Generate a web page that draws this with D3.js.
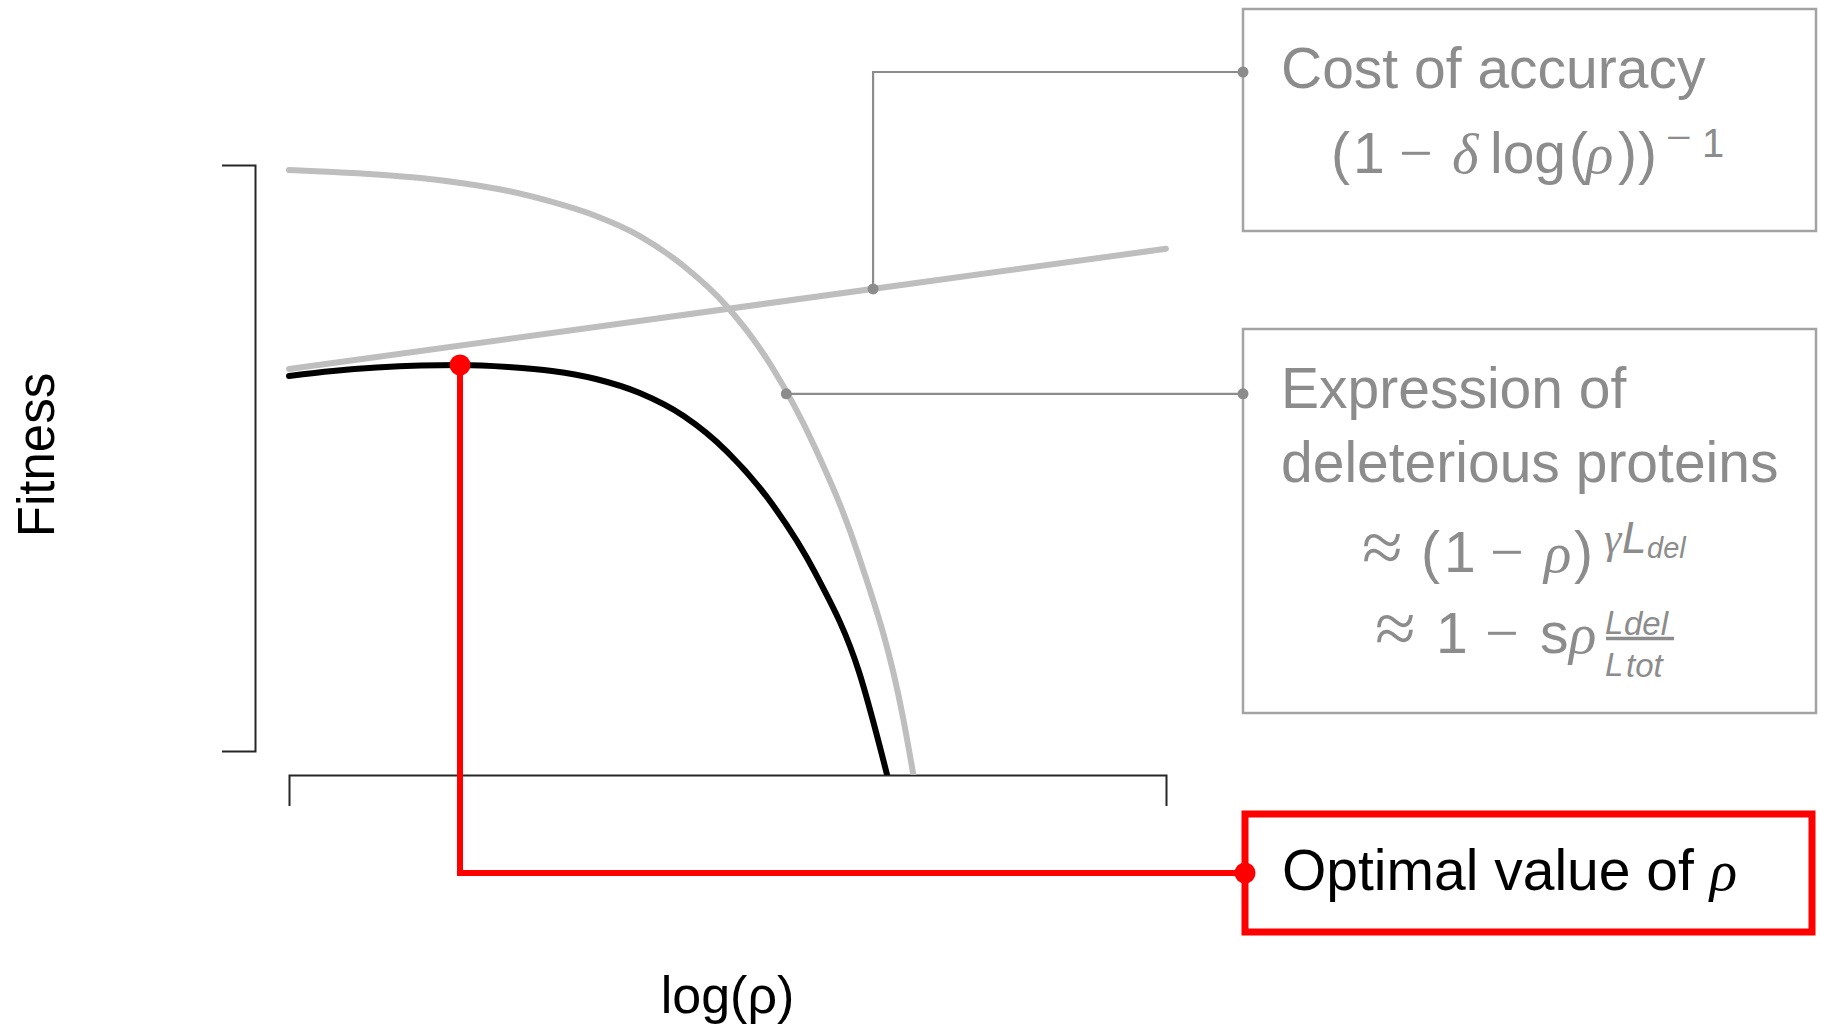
<!DOCTYPE html>
<html>
<head>
<meta charset="utf-8">
<script src="https://cdn.jsdelivr.net/npm/d3@7"></script>
<style>
  html, body { margin: 0; padding: 0; background: #fff; }
  svg { display: block; }
</style>
</head>
<body>
<svg id="chart" width="1822" height="1026"></svg>
<script>
// ---- Data (x: log(rho) in arbitrary units, y: fitness in arbitrary units) ----
// Expression of deleterious proteins
const deleteriousX = [0.0, 0.5, 1.0, 1.5, 2.0, 2.5, 3.0, 3.5, 4.0, 4.5, 5.0, 5.5, 6.0, 6.5, 7.0, 7.12];
const deleteriousY = [9.915, 9.881, 9.838, 9.778, 9.684, 9.556, 9.369, 9.130, 8.788, 8.276, 7.577, 6.570, 5.171, 3.311, 0.580, -0.410];

// Cost of accuracy (straight in log(rho))
const accuracyX = [0, 10];
const accuracyY = [6.52, 8.57];

// Resulting fitness
const fitnessX = [0.0, 0.5, 1.0, 1.5, 1.95, 2.5, 3.0, 3.5, 4.0, 4.5, 5.0, 5.5, 6.0, 6.5, 6.82];
const fitnessY = [6.399, 6.485, 6.544, 6.578, 6.587, 6.553, 6.485, 6.348, 6.109, 5.717, 5.102, 4.232, 3.038, 1.348, -0.410];

// Where the callouts touch their curves
const accuracyAnchorX = 6.66;
const deleteriousAnchorX = 5.67;

const xDomain = [0, 10];
const yDomain = [0, 10];
const yFloor = -0.41;   // lower edge of the plotting region

// ---- Setup ----
const svg = d3.select("#chart");
const x = d3.scaleLinear().domain(xDomain).range([289, 1166]);
const y = d3.scaleLinear().domain(yDomain).range([751, 165]);

const zip = (xs, ys) => xs.map((v, i) => [v, ys[i]]);
const deleterious = zip(deleteriousX, deleteriousY);
const accuracy = zip(accuracyX, accuracyY);
const fitness = zip(fitnessX, fitnessY);

// linear interpolation along a polyline
function valueAt(pts, xv) {
  const i = d3.bisector(d => d[0]).left(pts, xv);
  if (i <= 0) return pts[0][1];
  if (i >= pts.length) return pts[pts.length - 1][1];
  const [x0, y0] = pts[i - 1], [x1, y1] = pts[i];
  return y0 + (y1 - y0) * (xv - x0) / (x1 - x0);
}

const smooth = d3.line().x(d => x(d[0])).y(d => y(d[1])).curve(d3.curveMonotoneX);
const straight = d3.line().x(d => x(d[0])).y(d => y(d[1]));

const GREY_TEXT = "#8c8c8c";
const GREY_CURVE = "#bebebe";
const SANS = "'Liberation Sans', Arial, Helvetica, sans-serif";
const SERIF = "'Liberation Serif', 'Times New Roman', serif";

// ---- Axes (bare brackets, no tick labels) ----
const axisColor = "#262626";
const xAxisY = y(yFloor);
svg.append("g")
  .attr("transform", `translate(0,${xAxisY})`)
  .style("color", axisColor)
  .call(d3.axisBottom(x).tickValues([]).tickSizeOuter(31))
  .select(".domain").attr("stroke-width", 2);

svg.append("g")
  .attr("transform", "translate(255,0)")
  .style("color", axisColor)
  .call(d3.axisLeft(y).tickValues([]).tickSizeOuter(33))
  .select(".domain").attr("stroke-width", 2);

svg.append("text")
  .attr("transform", "translate(54,455) rotate(-90)")
  .attr("text-anchor", "middle")
  .attr("font-family", SANS).attr("font-size", 51).attr("fill", "#000")
  .text("Fitness");

svg.append("text")
  .attr("x", (x.range()[0] + x.range()[1]) / 2).attr("y", 1013)
  .attr("text-anchor", "middle")
  .attr("font-family", SANS).attr("font-size", 52).attr("fill", "#000")
  .text("log(ρ)");

// ---- Curves ----
svg.append("clipPath").attr("id", "plotClip")
  .append("rect").attr("x", 0).attr("y", 0).attr("width", 1822).attr("height", xAxisY);

const curves = svg.append("g").attr("clip-path", "url(#plotClip)");

curves.append("path").datum(deleterious)
  .attr("d", smooth).attr("fill", "none")
  .attr("stroke", GREY_CURVE).attr("stroke-width", 6).attr("stroke-linecap", "round");

curves.append("path").datum(accuracy)
  .attr("d", straight).attr("fill", "none")
  .attr("stroke", GREY_CURVE).attr("stroke-width", 6).attr("stroke-linecap", "round");

curves.append("path").datum(fitness)
  .attr("d", smooth).attr("fill", "none")
  .attr("stroke", "#000").attr("stroke-width", 6).attr("stroke-linecap", "round");

// ---- Callout boxes ----
const boxLeft = 1243;
const boxes = [
  { x: boxLeft, y: 9, w: 573, h: 222, stroke: "#a3a3a3", sw: 2.5 },
  { x: boxLeft, y: 329, w: 573, h: 384, stroke: "#a3a3a3", sw: 2.5 },
  { x: 1245, y: 814, w: 567, h: 118, stroke: "#ff0000", sw: 7 }
];
svg.append("g").selectAll("rect").data(boxes).join("rect")
  .attr("x", d => d.x).attr("y", d => d.y)
  .attr("width", d => d.w).attr("height", d => d.h)
  .attr("fill", "none").attr("stroke", d => d.stroke).attr("stroke-width", d => d.sw);

// ---- Connectors ----
const conn = svg.append("g");
const accPt = [x(accuracyAnchorX), y(valueAt(accuracy, accuracyAnchorX))];
const delPt = [x(deleteriousAnchorX), y(valueAt(deleterious, deleteriousAnchorX))];
const accElbowY = 72;

conn.append("path")
  .attr("d", `M${accPt[0]},${accPt[1]}V${accElbowY}H${boxLeft}`)
  .attr("fill", "none").attr("stroke", GREY_TEXT).attr("stroke-width", 2.2);
conn.append("path")
  .attr("d", `M${delPt[0]},${delPt[1]}H${boxLeft}`)
  .attr("fill", "none").attr("stroke", GREY_TEXT).attr("stroke-width", 2.2);
conn.selectAll("circle")
  .data([accPt, [boxLeft, accElbowY], delPt, [boxLeft, delPt[1]]])
  .join("circle")
  .attr("cx", d => d[0]).attr("cy", d => d[1]).attr("r", 5.5).attr("fill", GREY_TEXT);

// Optimum of the fitness curve
const optimum = d3.greatest(fitness, d => d[1]);
const optPt = [x(optimum[0]), y(optimum[1])];
const redBox = boxes[2];
const redElbowY = redBox.y + redBox.h / 2;
const red = svg.append("g");
red.append("path")
  .attr("d", `M${optPt[0]},${optPt[1]}V${redElbowY}H${redBox.x}`)
  .attr("fill", "none").attr("stroke", "#ff0000").attr("stroke-width", 6);
red.selectAll("circle").data([optPt, [redBox.x, redElbowY]]).join("circle")
  .attr("cx", d => d[0]).attr("cy", d => d[1]).attr("r", 10.5).attr("fill", "#ff0000");

// ---- Box texts ----
function textLine(g, str, xPos, yPos, color) {
  return g.append("text").attr("x", xPos).attr("y", yPos)
    .attr("font-family", SANS).attr("font-size", 57).attr("fill", color).text(str);
}
const labels = svg.append("g");
textLine(labels, "Cost of accuracy", 1281, 88, GREY_TEXT);
textLine(labels, "Expression of", 1281, 408, GREY_TEXT);
textLine(labels, "deleterious proteins", 1281, 482, GREY_TEXT);

const opt = labels.append("text").attr("x", 1282).attr("y", 890)
  .attr("font-family", SANS).attr("font-size", 57).attr("fill", "#000");
opt.append("tspan").text("Optimal value of ");
opt.append("tspan").attr("font-family", SERIF).attr("font-style", "italic").text("ρ");

// math pieces: [text, x, baseline, size, family, italic]
function mathPieces(g, pieces) {
  g.selectAll(null).data(pieces).join("text")
    .attr("x", d => d[1]).attr("y", d => d[2])
    .attr("font-size", d => d[3])
    .attr("font-family", d => d[4])
    .attr("font-style", d => d[5] ? "italic" : "normal")
    .attr("fill", GREY_TEXT)
    .text(d => d[0]);
}

// (1 − δ log(ρ))^−1
mathPieces(labels.append("g"), [
  ["(", 1331, 173, 57, SANS, false],
  ["1", 1353, 173, 57, SANS, false],
  ["−", 1399, 173, 60, SERIF, false],
  ["δ", 1452, 173, 57, SERIF, true],
  ["log", 1490, 173, 57, SANS, false],
  ["(", 1569, 173, 57, SANS, false],
  ["ρ", 1586, 173, 57, SERIF, true],
  [")", 1618, 173, 57, SANS, false],
  [")", 1638, 173, 57, SANS, false],
  ["−", 1666, 153, 46, SERIF, false],
  ["1", 1702, 157, 40, SANS, false]
]);

// ≈ (1 − ρ)^(γ L_del)
mathPieces(labels.append("g"), [
  ["≈", 1362, 572, 74, SERIF, false],
  ["(", 1421, 572, 57, SANS, false],
  ["1", 1444, 572, 57, SANS, false],
  ["−", 1490, 572, 60, SERIF, false],
  ["ρ", 1544, 572, 57, SERIF, true],
  [")", 1574, 572, 57, SANS, false],
  ["γ", 1604, 553, 44, SERIF, true],
  ["L", 1622, 553, 44, SANS, true],
  ["del", 1647, 558, 29, SANS, true]
]);

// ≈ 1 − sρ L_del / L_tot
mathPieces(labels.append("g"), [
  ["≈", 1375, 653, 74, SERIF, false],
  ["1", 1436, 653, 57, SANS, false],
  ["−", 1485, 653, 60, SERIF, false],
  ["s", 1540, 653, 57, SANS, false],
  ["ρ", 1569, 653, 57, SERIF, true],
  ["L", 1605, 634, 33, SANS, true],
  ["del", 1624, 635, 33, SANS, true],
  ["L", 1605, 676, 33, SANS, true],
  ["tot", 1626, 677, 33, SANS, true]
]);
labels.append("line")
  .attr("x1", 1606).attr("x2", 1674).attr("y1", 638.5).attr("y2", 638.5)
  .attr("stroke", GREY_TEXT).attr("stroke-width", 3.5);
</script>
</body>
</html>
